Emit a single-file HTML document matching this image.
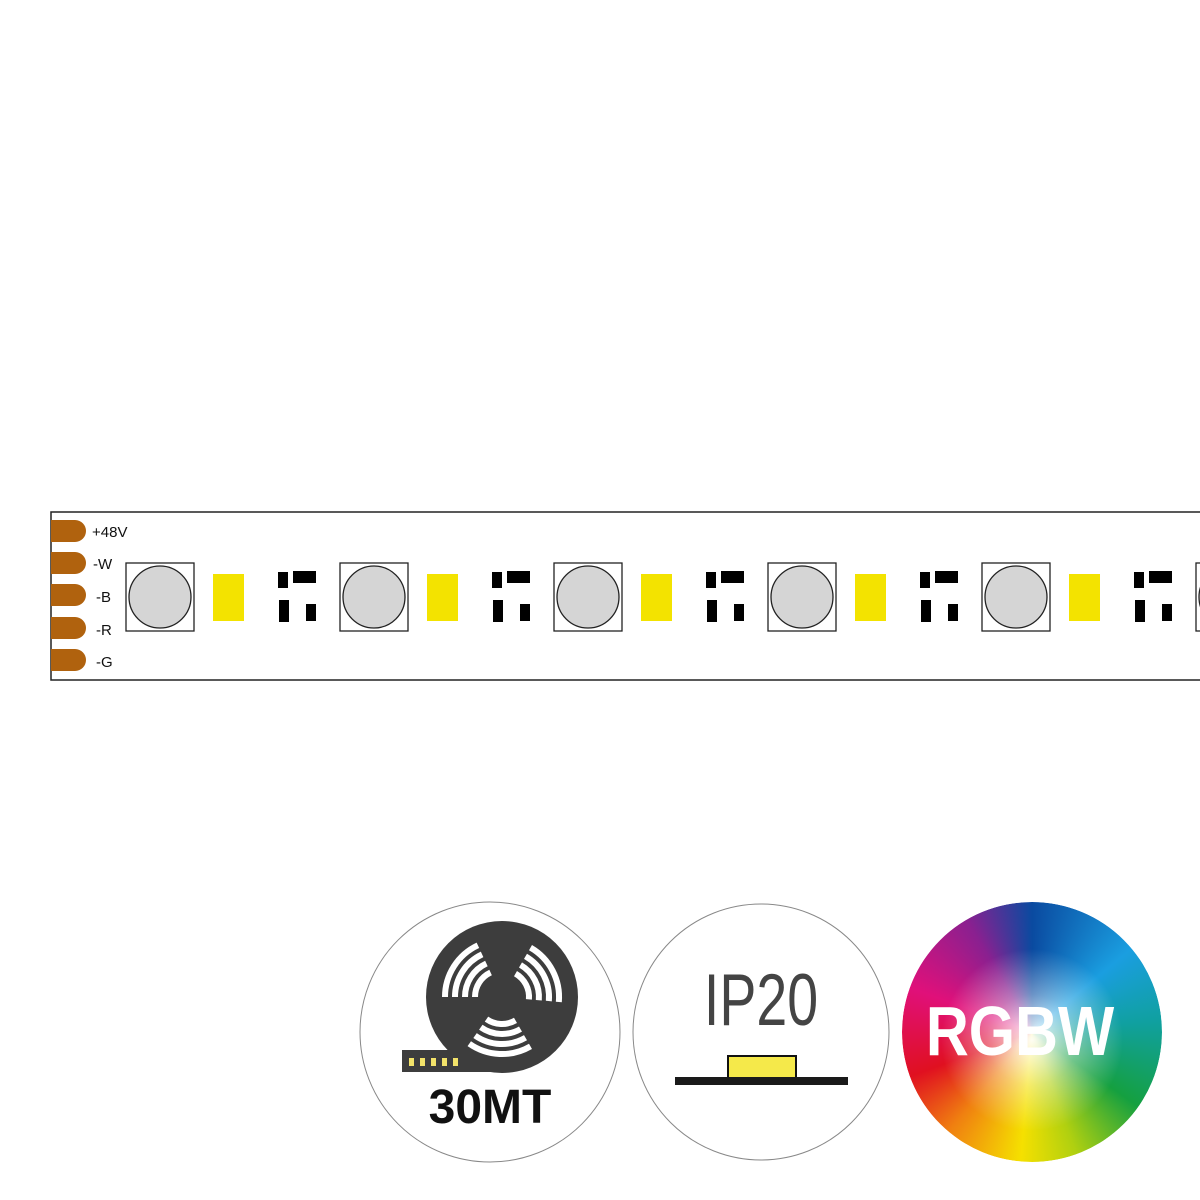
<!DOCTYPE html>
<html><head><meta charset="utf-8"><style>
html,body{margin:0;padding:0;background:#fff;width:1200px;height:1200px;overflow:hidden}
</style></head><body>
<svg width="1200" height="1200" viewBox="0 0 1200 1200" xmlns="http://www.w3.org/2000/svg">
<defs>
<radialGradient id="wh" cx="0.5" cy="0.5" r="0.5">
<stop offset="0" stop-color="#fff" stop-opacity="0.95"/>
<stop offset="0.35" stop-color="#fff" stop-opacity="0.4"/>
<stop offset="0.7" stop-color="#fff" stop-opacity="0"/>
</radialGradient>
<clipPath id="cc"><circle cx="1032" cy="1032" r="130"/></clipPath>
</defs>
<rect x="51" y="512" width="1200" height="168" fill="#fff" stroke="#222" stroke-width="1.5"/>
<g fill="#b0620e">
<path d="M51 520 h24 a11 11 0 0 1 0 22 h-24z"/>
<path d="M51 552 h24 a11 11 0 0 1 0 22 h-24z"/>
<path d="M51 584 h24 a11 11 0 0 1 0 22 h-24z"/>
<path d="M51 617 h24 a11 11 0 0 1 0 22 h-24z"/>
<path d="M51 649 h24 a11 11 0 0 1 0 22 h-24z"/>
</g>
<g font-family="Liberation Sans, sans-serif" font-size="15" fill="#111">
<text x="92" y="537">+48V</text>
<text x="93" y="569">-W</text>
<text x="96" y="602">-B</text>
<text x="96" y="635">-R</text>
<text x="96" y="667">-G</text>
</g>
<g id="unit">
<rect x="126" y="563" width="68" height="68" fill="#fff" stroke="#222" stroke-width="1.3"/>
<circle cx="160" cy="597" r="31" fill="#d5d5d5" stroke="#222" stroke-width="1.3"/>
<rect x="213" y="574" width="31" height="47" fill="#f3e300"/>
<g fill="#000">
<rect x="278" y="572" width="10" height="16"/>
<rect x="293" y="571" width="23" height="12"/>
<rect x="279" y="600" width="10" height="22"/>
<rect x="306" y="604" width="10" height="17"/>
</g>
</g>
<use href="#unit" x="214"/>
<use href="#unit" x="428"/>
<use href="#unit" x="642"/>
<use href="#unit" x="856"/>
<use href="#unit" x="1070"/>
<circle cx="490" cy="1032" r="130" fill="#fff" stroke="#888" stroke-width="1"/>
<circle cx="502" cy="997" r="76" fill="#3d3d3d"/>
<rect x="402" y="1050" width="100" height="22" fill="#3d3d3d"/>
<g fill="#f3e36a">
<rect x="409" y="1058" width="5" height="8"/><rect x="420" y="1058" width="5" height="8"/><rect x="431" y="1058" width="5" height="8"/><rect x="442" y="1058" width="5" height="8"/><rect x="453" y="1058" width="5" height="8"/>
</g>
<g fill="none" stroke="#fff" stroke-width="6">
<g id="sec">
<path d="M475 997 A27 27 0 0 1 490.6 972.5"/>
<path d="M465 997 A37 37 0 0 1 486.4 963.5"/>
<path d="M455 997 A47 47 0 0 1 482.1 954.4"/>
<path d="M445 997 A57 57 0 0 1 477.9 945.3"/>
</g>
<use href="#sec" transform="rotate(120 502 997)"/>
<use href="#sec" transform="rotate(240 502 997)"/>
</g>
<text x="490" y="1123" text-anchor="middle" font-family="Liberation Sans, sans-serif" font-weight="bold" font-size="48" fill="#111">30MT</text>
<circle cx="761" cy="1032" r="128" fill="#fff" stroke="#888" stroke-width="1"/>
<text x="0" y="0" transform="translate(761 1025) scale(0.76 1)" text-anchor="middle" font-family="Liberation Sans, sans-serif" font-size="73" fill="#444">IP20</text>
<rect x="728" y="1056" width="68" height="22" fill="#f5e94a" stroke="#111" stroke-width="2"/>
<rect x="675" y="1077" width="173" height="8" fill="#1a1a1a"/>
<foreignObject x="902" y="902" width="260" height="260" clip-path="url(#cc)">
<div xmlns="http://www.w3.org/1999/xhtml" style="width:260px;height:260px;border-radius:50%;background:conic-gradient(from 0deg,#0a4aa0 0deg,#1a9ee0 50deg,#10a0a0 85deg,#15a040 125deg,#b0d010 160deg,#f5e000 185deg,#f08010 220deg,#e01020 250deg,#e0107a 290deg,#8a2090 330deg,#0a4aa0 360deg)"></div>
</foreignObject>
<circle cx="1032" cy="1040" r="130" fill="url(#wh)" clip-path="url(#cc)"/>
<text x="0" y="0" transform="translate(1020 1055) scale(0.85 1)" text-anchor="middle" font-family="Liberation Sans, sans-serif" font-weight="bold" font-size="70" fill="#fff">RGBW</text>
</svg>
</body></html>
